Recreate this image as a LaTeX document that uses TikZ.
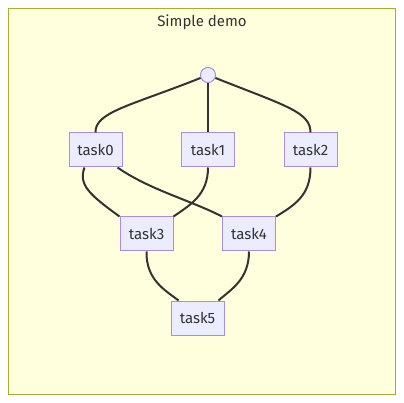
\documentclass[tikz,border=0pt]{standalone}
\usepackage{fontspec}
\setmainfont{Fira Sans}
\definecolor{clbg}{HTML}{FFFFDE}
\definecolor{clbd}{HTML}{AAAA33}
\definecolor{ndbg}{HTML}{ECECFF}
\definecolor{ndbd}{HTML}{9370DB}
\definecolor{txt}{HTML}{333333}
\begin{document}
\begin{tikzpicture}[x=1pt,y=-1pt,
  task/.style={draw=ndbd!80!white,fill=ndbg,line width=1pt,minimum width=53pt,minimum height=34pt,inner sep=0pt,text=txt,font=\fontsize{15}{17}\selectfont},
  edge/.style={draw=txt,line width=2pt}]
\useasboundingbox (0,0) rectangle (404,403);
\fill[white] (0,0) rectangle (404,403);
\draw[clbd,fill=clbg,line width=1pt] (8.5,8.5) rectangle (395.5,394.5);
\node[text=txt,font=\fontsize{15}{17}\selectfont] (title) at (202,22) {Simple demo};
\node[circle,draw=ndbd!80!white,fill=ndbg,line width=1pt,minimum size=15pt,inner sep=0pt] (c) at (208,75) {};
\node[task] (t0) at (95.5,150) {task0};
\node[task] (t1) at (208,150) {task1};
\node[task] (t2) at (310.5,150) {task2};
\node[task] (t3) at (146.5,234) {task3};
\node[task] (t4) at (249,234) {task4};
\node[task] (t5) at (197.5,318) {task5};
\draw[edge] (c) .. controls (130,106) and (95,112) .. (t0.north);
\draw[edge] (c) -- (t1.north);
\draw[edge] (c) .. controls (286,106) and (310.5,112) .. (t2.north);
\draw[edge] ([xshift=-11pt]t0.south) .. controls (78,185) and (90,195) .. (t3.north west);
\draw[edge] ([xshift=22pt]t0.south) .. controls (150,190) and (190,200) .. (t4.north west);
\draw[edge] (t1.south) .. controls (208,195) and (190,205) .. (t3.north east);
\draw[edge] (t2.south) .. controls (310.5,195) and (295,205) .. (t4.north east);
\draw[edge] (t3.south) .. controls (146,280) and (165,290) .. ([xshift=-19pt]t5.north);
\draw[edge] (t4.south) .. controls (249,280) and (230,290) .. ([xshift=21pt]t5.north);
\end{tikzpicture}
\end{document}
